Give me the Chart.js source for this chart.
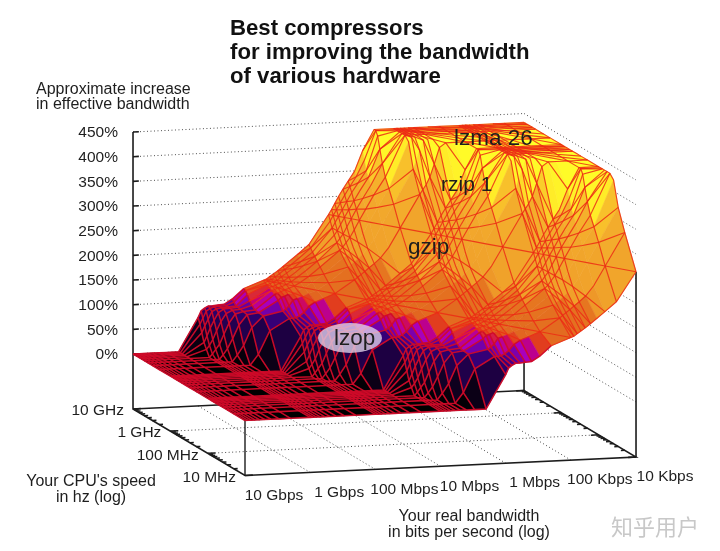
<!DOCTYPE html>
<html>
<head>
<meta charset="utf-8">
<style>
html, body { margin: 0; background: #fff; }
canvas { display: block; filter: blur(0.45px); }
</style>
<script src="https://cdn.jsdelivr.net/npm/chart.js@4"></script>
</head>
<body>
<canvas id="myChart" width="720" height="551"></canvas>
<script>
// grid of the measurements, high to low like the axes
var bandwidthSteps = [1e10,9e9,8e9,7e9,6e9,5e9,4e9,3e9,2e9, 1e9,9e8,8e8,7e8,6e8,5e8,4e8,3e8,2e8, 1e8,9e7,8e7,7e7,6e7,5e7,4e7,3e7,2e7, 1e7,9e6,8e6,7e6,6e6,5e6,4e6,3e6,2e6, 1e6,9e5,8e5,7e5,6e5,5e5,4e5,3e5,2e5, 1e5,9e4,8e4,7e4,6e4,5e4,4e4,3e4,2e4, 1e4];
var cpuSteps = [1e10,9e9,8e9,7e9,6e9,5e9,4e9,3e9,2e9, 1e9,9e8,8e8,7e8,6e8,5e8,4e8,3e8,2e8, 1e8,9e7,8e7,7e7,6e7,5e7,4e7,3e7,2e7, 1e7];

// effective bandwidth increase in %, one row per cpu step, one column per bandwidth step
var gainRows = [
[0,0,0,0,0,0,0,0,0,68,81,86,90,90,91,92,102,122,137,139,144,149,155,163,173,186,205,264,274,286,300,314,330,349,390,432,432,432,432,432,432,432,432,432,432,432,432,432,432,432,432,432,432,432,432],
[0,0,0,0,0,0,0,0,0,56,68,82,87,90,91,91,98,120,134,137,140,145,151,159,168,181,200,253,264,275,289,304,321,340,373,432,432,432,432,432,432,432,432,432,432,432,432,432,432,432,432,432,432,432,432],
[0,0,0,0,0,0,0,0,0,41,55,68,83,88,90,91,92,114,132,134,137,140,147,154,163,176,194,241,252,264,277,293,311,330,354,423,432,432,432,432,432,432,432,432,432,432,432,432,432,432,432,432,432,432,432],
[0,0,0,0,0,0,0,0,0,24,37,53,68,83,90,91,92,104,129,131,133,137,141,148,157,170,188,229,238,250,264,279,297,318,343,399,432,432,432,432,432,432,432,432,432,432,432,432,432,432,432,432,432,432,432],
[0,0,0,0,0,0,0,0,0,13,21,32,50,68,84,90,91,98,126,128,131,133,137,142,151,163,181,217,225,234,248,264,283,304,330,373,432,432,432,432,432,432,432,432,432,432,432,432,432,432,432,432,432,432,432],
[0,0,0,0,0,0,0,0,0,0,7,16,26,46,68,86,90,92,122,124,127,130,133,137,144,155,173,205,211,220,230,245,264,286,314,349,432,432,432,432,432,432,432,432,432,432,432,432,432,432,432,432,432,432,432],
[0,0,0,0,0,0,0,0,0,0,0,0,9,21,41,68,88,91,114,120,122,125,128,132,137,147,163,194,199,205,213,225,241,264,293,330,423,432,432,432,432,432,432,432,432,432,432,432,432,432,432,432,432,432,432],
[0,0,0,0,0,0,0,0,0,0,0,0,0,0,13,32,68,90,98,102,108,119,122,126,131,137,151,181,186,191,197,205,217,234,264,304,373,390,411,431,432,432,432,432,432,432,432,432,432,432,432,432,432,432,432],
[0,0,0,0,0,0,0,0,0,0,0,0,0,0,0,0,21,68,91,91,92,95,102,114,122,128,137,163,168,173,179,186,194,205,225,264,330,339,349,364,390,423,432,432,432,432,432,432,432,432,432,432,432,432,432],
[0,0,0,0,0,0,0,0,0,0,0,0,0,0,0,0,0,0,68,81,86,90,90,91,92,102,122,137,139,144,149,155,163,173,186,205,264,274,286,300,314,330,349,390,432,432,432,432,432,432,432,432,432,432,432],
[0,0,0,0,0,0,0,0,0,0,0,0,0,0,0,0,0,0,56,68,82,87,90,91,91,98,120,134,137,140,145,151,159,168,181,200,253,264,275,289,304,321,340,373,432,432,432,432,432,432,432,432,432,432,432],
[0,0,0,0,0,0,0,0,0,0,0,0,0,0,0,0,0,0,41,55,68,83,88,90,91,92,114,132,134,137,140,147,154,163,176,194,241,252,264,277,293,311,330,354,423,432,432,432,432,432,432,432,432,432,432],
[0,0,0,0,0,0,0,0,0,0,0,0,0,0,0,0,0,0,24,37,53,68,83,90,91,92,104,129,131,133,137,141,148,157,170,188,229,238,250,264,279,297,318,343,399,432,432,432,432,432,432,432,432,432,432],
[0,0,0,0,0,0,0,0,0,0,0,0,0,0,0,0,0,0,13,21,32,50,68,84,90,91,98,126,128,131,133,137,142,151,163,181,217,225,234,248,264,283,304,330,373,432,432,432,432,432,432,432,432,432,432],
[0,0,0,0,0,0,0,0,0,0,0,0,0,0,0,0,0,0,0,7,16,26,46,68,86,90,92,122,124,127,130,133,137,144,155,173,205,211,220,230,245,264,286,314,349,432,432,432,432,432,432,432,432,432,432],
[0,0,0,0,0,0,0,0,0,0,0,0,0,0,0,0,0,0,0,0,0,9,21,41,68,88,91,114,120,122,125,128,132,137,147,163,194,199,205,213,225,241,264,293,330,423,432,432,432,432,432,432,432,432,432],
[0,0,0,0,0,0,0,0,0,0,0,0,0,0,0,0,0,0,0,0,0,0,0,13,32,68,90,98,102,108,119,122,126,131,137,151,181,186,191,197,205,217,234,264,304,373,390,411,431,432,432,432,432,432,432],
[0,0,0,0,0,0,0,0,0,0,0,0,0,0,0,0,0,0,0,0,0,0,0,0,0,21,68,91,91,92,95,102,114,122,128,137,163,168,173,179,186,194,205,225,264,330,339,349,364,390,423,432,432,432,432],
[0,0,0,0,0,0,0,0,0,0,0,0,0,0,0,0,0,0,0,0,0,0,0,0,0,0,0,68,81,86,90,90,91,92,102,122,137,139,144,149,155,163,173,186,205,264,274,286,300,314,330,349,390,432,432],
[0,0,0,0,0,0,0,0,0,0,0,0,0,0,0,0,0,0,0,0,0,0,0,0,0,0,0,56,68,82,87,90,91,91,98,120,134,137,140,145,151,159,168,181,200,253,264,275,289,304,321,340,373,432,432],
[0,0,0,0,0,0,0,0,0,0,0,0,0,0,0,0,0,0,0,0,0,0,0,0,0,0,0,41,55,68,83,88,90,91,92,114,132,134,137,140,147,154,163,176,194,241,252,264,277,293,311,330,354,423,432],
[0,0,0,0,0,0,0,0,0,0,0,0,0,0,0,0,0,0,0,0,0,0,0,0,0,0,0,24,37,53,68,83,90,91,92,104,129,131,133,137,141,148,157,170,188,229,238,250,264,279,297,318,343,399,432],
[0,0,0,0,0,0,0,0,0,0,0,0,0,0,0,0,0,0,0,0,0,0,0,0,0,0,0,13,21,32,50,68,84,90,91,98,126,128,131,133,137,142,151,163,181,217,225,234,248,264,283,304,330,373,432],
[0,0,0,0,0,0,0,0,0,0,0,0,0,0,0,0,0,0,0,0,0,0,0,0,0,0,0,0,7,16,26,46,68,86,90,92,122,124,127,130,133,137,144,155,173,205,211,220,230,245,264,286,314,349,432],
[0,0,0,0,0,0,0,0,0,0,0,0,0,0,0,0,0,0,0,0,0,0,0,0,0,0,0,0,0,0,9,21,41,68,88,91,114,120,122,125,128,132,137,147,163,194,199,205,213,225,241,264,293,330,423],
[0,0,0,0,0,0,0,0,0,0,0,0,0,0,0,0,0,0,0,0,0,0,0,0,0,0,0,0,0,0,0,0,13,32,68,90,98,102,108,119,122,126,131,137,151,181,186,191,197,205,217,234,264,304,373],
[0,0,0,0,0,0,0,0,0,0,0,0,0,0,0,0,0,0,0,0,0,0,0,0,0,0,0,0,0,0,0,0,0,0,21,68,91,91,92,95,102,114,122,128,137,163,168,173,179,186,194,205,225,264,330],
[0,0,0,0,0,0,0,0,0,0,0,0,0,0,0,0,0,0,0,0,0,0,0,0,0,0,0,0,0,0,0,0,0,0,0,0,68,81,86,90,90,91,92,102,122,137,139,144,149,155,163,173,186,205,264]
];

var percentTicks = [0, 50, 100, 150, 200, 250, 300, 350, 400, 450];
var bandwidthTicks = [1e10, 1e9, 1e8, 1e7, 1e6, 1e5, 1e4];
var bandwidthLabels = ["10 Gbps", "1 Gbps", "100 Mbps", "10 Mbps", "1 Mbps", "100 Kbps", "10 Kbps"];
var cpuTicks = [1e10, 1e9, 1e8, 1e7];
var cpuLabels = ["10 GHz", "1 GHz", "100 MHz", "10 MHz"];
var titleLines = ["Best compressors", "for improving the bandwidth", "of various hardware"];

// colour of a cell by its mean gain
var paletteGain = [0, 40, 85, 95, 105, 115, 122, 130, 185, 200, 300, 350, 380, 432];
var paletteRgb = [[0,0,0],[20,0,40],[45,0,110],[90,0,160],[170,0,190],[200,0,110],[225,60,30],[226,105,32],[230,118,32],[240,160,42],[242,168,44],[246,178,44],[255,235,40],[255,255,40]];

var floorGain = -111.5; // the box floor sits below 0%
var upperSheet = 125;   // above this gain the mesh gets thinned and picks up the ratio lines

function decadesFromTop(value) {
    return Math.log10(1e10 / value);
}

// fixed gnuplot style view: x scale is in bandwidth decades, y scale in percent
function project(u, v, gain) {
    return { x: u + 0.5728 * v, y: gain + 6.25 * u - 44.9 * v };
}

function colorFor(gain) {
    var k = 1;
    while (k < paletteGain.length - 1 && gain > paletteGain[k]) k++;
    var t = Math.min(1, (gain - paletteGain[k - 1]) / (paletteGain[k] - paletteGain[k - 1]));
    var a = paletteRgb[k - 1], b = paletteRgb[k];
    return "rgb(" + (a[0] + (b[0] - a[0]) * t) + "," + (a[1] + (b[1] - a[1]) * t) + "," + (a[2] + (b[2] - a[2]) * t) + ")";
}

function lineSet(points, color, width, dash) {
    return {
        data: points, showLine: true, fill: false, pointRadius: 0, tension: 0,
        borderColor: color, borderWidth: width, borderDash: dash || []
    };
}

var frameColor = "#1c1c1c", dotColor = "#4c4c4c", dots = [1, 2.5];
var us = bandwidthSteps.map(decadesFromTop);
var vs = cpuSteps.map(decadesFromTop);
var maxU = us[us.length - 1], maxV = vs[vs.length - 1];

var backToFront = [];

// dotted grid on the walls and on the floor
percentTicks.forEach(function (p) {
    backToFront.push(lineSet([project(0, 0, p), project(maxU, 0, p)], dotColor, 1, dots));
    backToFront.push(lineSet([project(maxU, 0, p), project(maxU, maxV, p)], dotColor, 1, dots));
});
bandwidthTicks.slice(1, -1).forEach(function (b) {
    var u = decadesFromTop(b);
    backToFront.push(lineSet([project(u, 0, floorGain), project(u, maxV, floorGain)], dotColor, 1, dots));
});
cpuTicks.slice(1, -1).forEach(function (c) {
    var v = decadesFromTop(c);
    backToFront.push(lineSet([project(0, v, floorGain), project(maxU, v, floorGain)], dotColor, 1, dots));
});

// box
backToFront.push(lineSet([project(0, 0, 450), project(0, 0, floorGain), project(0, maxV, floorGain), project(maxU, maxV, floorGain), project(maxU, 0, floorGain), project(0, 0, floorGain)], frameColor, 1.6));
backToFront.push(lineSet([project(maxU, 0, floorGain), project(maxU, 0, 100)], frameColor, 1.6));
backToFront.push(lineSet([project(maxU, maxV, floorGain), project(maxU, maxV, 264)], frameColor, 1.6));
backToFront.push(lineSet([project(0, maxV, floorGain), project(0, maxV, 0)], frameColor, 1.4));
percentTicks.forEach(function (p) {
    backToFront.push(lineSet([project(0, 0, p), project(0.09, 0, p)], frameColor, 1.6));
});
vs.forEach(function (v, j) {
    var len = j % 9 === 0 ? 0.12 : 0.06;
    backToFront.push(lineSet([project(0, v, floorGain), project(len, v, floorGain)], frameColor, 1.6));
    backToFront.push(lineSet([project(maxU, v, floorGain), project(maxU - len, v, floorGain)], frameColor, 1.6));
});

// surface fills, far cells first so the near ones cover them
for (var i = us.length - 2; i >= 0; i--) {
    for (var j = 0; j < vs.length - 1; j++) {
        var mean = (gainRows[j][i] + gainRows[j][i + 1] + gainRows[j + 1][i] + gainRows[j + 1][i + 1]) / 4;
        var shade = colorFor(mean);
        backToFront.push({
            data: [
                project(us[i], vs[j], gainRows[j][i]),
                project(us[i + 1], vs[j], gainRows[j][i + 1]),
                project(us[i + 1], vs[j + 1], gainRows[j + 1][i + 1]),
                project(us[i], vs[j + 1], gainRows[j + 1][i]),
                project(us[i], vs[j], gainRows[j][i])
            ],
            showLine: true, fill: "shape", pointRadius: 0, tension: 0,
            backgroundColor: shade, borderColor: shade, borderWidth: 0.6
        });
    }
}

// one mesh line over grid nodes [i, j], cut in a lower and an upper part
function meshLine(nodes, lower, upper) {
    var run = [], runHigh = null;
    function flush() {
        if (run.length > 1) {
            if (runHigh && upper) backToFront.push(lineSet(run, "rgba(236,42,20,0.85)", 1.15));
            if (!runHigh && lower) backToFront.push(lineSet(run, "rgba(208,10,40,0.94)", 1.55));
        }
    }
    for (var n = 0; n + 1 < nodes.length; n++) {
        var p = nodes[n], q = nodes[n + 1];
        var high = Math.max(gainRows[p[1]][p[0]], gainRows[q[1]][q[0]]) > upperSheet;
        if (high !== runHigh) {
            flush();
            run = [project(us[p[0]], vs[p[1]], gainRows[p[1]][p[0]])];
            runHigh = high;
        }
        run.push(project(us[q[0]], vs[q[1]], gainRows[q[1]][q[0]]));
    }
    flush();
}

var thinnedSteps = [6, 7];
var ratioSteps = [0, 1, 2, 4, 5, 7];
us.forEach(function (u, i) {
    var nodes = vs.map(function (v, j) { return [i, j]; });
    meshLine(nodes, true, thinnedSteps.indexOf(i % 9) < 0);
});
vs.forEach(function (v, j) {
    var nodes = us.map(function (u, i) { return [i, j]; });
    meshLine(nodes, true, thinnedSteps.indexOf(j % 9) < 0);
});
// lines of equal bandwidth to cpu ratio on the upper sheet
for (var shift = 9; shift < us.length; shift++) {
    if (ratioSteps.indexOf(shift % 9) < 0) continue;
    var nodes = [];
    for (var k = 0; k < vs.length && k + shift < us.length; k++) nodes.push([k + shift, k]);
    meshLine(nodes, false, true);
}

function put(ctx, text, x, y, font, align, color) {
    ctx.font = font;
    ctx.textAlign = align;
    ctx.fillStyle = color || "#1e1e1e";
    ctx.fillText(text, x, y);
}

var labelPlugin = {
    id: "labels",
    afterDatasetsDraw: function (chart) {
        var ctx = chart.ctx, sx = chart.scales.x, sy = chart.scales.y;
        var sans = '"Liberation Sans", Arial, sans-serif';
        var axisFont = "15.5px " + sans;
        var noteFont = "16px " + sans;
        var px = function (p) { return { x: sx.getPixelForValue(p.x), y: sy.getPixelForValue(p.y) }; };

        ctx.save();
        ctx.textBaseline = "alphabetic";

        // lzop gets its pale bubble, the others sit on the surface
        ctx.fillStyle = "rgba(225,212,235,0.78)";
        ctx.beginPath();
        ctx.ellipse(350, 338, 32, 15, 0, 0, Math.PI * 2);
        ctx.fill();
        put(ctx, "lzop", 334, 345, "22.5px " + sans, "left");
        put(ctx, "gzip", 408, 254, "22.5px " + sans, "left");
        put(ctx, "rzip 1", 441, 191, "21px " + sans, "left");
        put(ctx, "lzma 26", 454, 145, "22.5px " + sans, "left");

        titleLines.forEach(function (line, n) {
            put(ctx, line, 230, 35 + n * 24, "bold 22.2px " + sans, "left", "#111");
        });
        put(ctx, "Approximate increase", 36, 94, noteFont, "left");
        put(ctx, "in effective bandwidth", 36, 109, noteFont, "left");

        ctx.textBaseline = "middle";
        percentTicks.forEach(function (p) {
            put(ctx, p + "%", 118, sy.getPixelForValue(p) + 1, axisFont, "right");
        });
        cpuTicks.forEach(function (c, n) {
            var at = px(project(0, decadesFromTop(c), floorGain));
            put(ctx, cpuLabels[n], at.x - 9, at.y + 2, axisFont, "right");
        });
        bandwidthTicks.forEach(function (b, n) {
            var at = px(project(decadesFromTop(b), maxV, floorGain));
            put(ctx, bandwidthLabels[n], at.x + 29, at.y + 20, axisFont, "center");
        });
        ctx.textBaseline = "alphabetic";
        put(ctx, "Your CPU's speed", 91, 486, noteFont, "center");
        put(ctx, "in hz (log)", 91, 502, noteFont, "center");
        put(ctx, "Your real bandwidth", 469, 521, noteFont, "center");
        put(ctx, "in bits per second (log)", 469, 537, noteFont, "center");
        put(ctx, "知乎用户", 655, 535, '22px "Noto Sans CJK SC"', "center", "#c8c8c8");
        ctx.restore();
    }
};

var ctx = document.getElementById('myChart').getContext('2d');
var myChart = new Chart(ctx, {
    type: 'scatter',
    data: { datasets: backToFront.reverse() },
    options: {
        responsive: false,
        animation: false,
        events: [],
        parsing: false,
        layout: { padding: 0 },
        plugins: { legend: { display: false }, tooltip: { enabled: false } },
        scales: {
            x: { display: false, min: -2.041, max: 9.007 },
            y: { display: false, min: -399.3, max: 717.6 }
        }
    },
    plugins: [labelPlugin]
});
</script>
</body>
</html>
